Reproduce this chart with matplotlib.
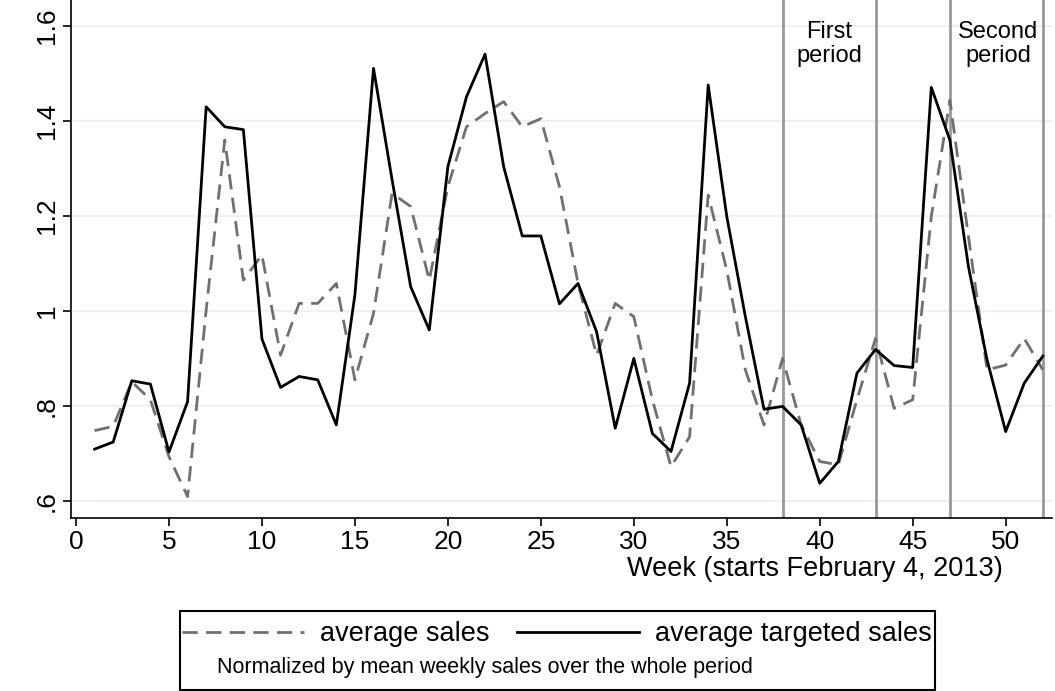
import matplotlib
matplotlib.use("Agg")
import matplotlib.pyplot as plt
from matplotlib.lines import Line2D
from matplotlib.patches import Rectangle

plt.rcParams['font.family'] = ['Liberation Sans', 'DejaVu Sans']

weeks = list(range(1, 53))
avg_sales = [0.748, 0.757, 0.851, 0.813, 0.693, 0.609, 1.002, 1.360, 1.065, 1.118,
             0.907, 1.016, 1.016, 1.058, 0.855, 0.995, 1.248, 1.220, 1.065, 1.262,
             1.388, 1.416, 1.441, 1.388, 1.405, 1.262, 1.058, 0.907, 1.016, 0.988,
             0.813, 0.672, 0.735, 1.244, 1.086, 0.876, 0.760, 0.900, 0.760, 0.683,
             0.676, 0.813, 0.942, 0.795, 0.813, 1.199, 1.444, 1.156, 0.876, 0.886,
             0.942, 0.876]
avg_targeted = [0.709, 0.724, 0.853, 0.846, 0.703, 0.809, 1.430, 1.388, 1.382, 0.941,
                0.839, 0.862, 0.855, 0.760, 1.034, 1.511, 1.276, 1.051, 0.960, 1.304,
                1.451, 1.541, 1.304, 1.158, 1.158, 1.015, 1.058, 0.956, 0.753, 0.900,
                0.742, 0.704, 0.848, 1.476, 1.199, 0.988, 0.793, 0.799, 0.760, 0.637,
                0.683, 0.869, 0.919, 0.885, 0.881, 1.471, 1.360, 1.093, 0.897, 0.746,
                0.848, 0.905]
period_lines = [38, 43, 47, 52]
yticks = [0.6, 0.8, 1.0, 1.2, 1.4, 1.6]
ytick_labels = ['.6', '.8', '1', '1.2', '1.4', '1.6']
xticks = [0, 5, 10, 15, 20, 25, 30, 35, 40, 45, 50]

fig = plt.figure(figsize=(10.55, 6.91), dpi=100)
ax = fig.add_axes([0.0673, 0.2504, 0.93, 0.7496])
ax.set_xlim(-0.27, 52.5)
ax.set_ylim(0.564, 1.655)
for y in yticks:
    ax.axhline(y, color='#eaf2f3', lw=1.5, zorder=0)
for x in period_lines:
    ax.axvline(x, color='#999999', lw=2, zorder=1)
ax.plot(weeks, avg_sales, color='#707070', lw=2, ls=(0, (5.5, 3)), zorder=2)
ax.plot(weeks, avg_targeted, color='black', lw=2, zorder=3)
ax.text(40.5, 1.61, 'First\nperiod', ha='center', va='top', fontsize=17, linespacing=1.1)
ax.text(49.6, 1.61, 'Second\nperiod', ha='center', va='top', fontsize=17, linespacing=1.1)

ax.set_yticks(yticks)
ax.set_yticklabels(ytick_labels, rotation=90, va='center', fontsize=19)
ax.set_xticks(xticks)
ax.set_xticklabels([str(t) for t in xticks], fontsize=19)
ax.tick_params(length=6, width=1.2, pad=3)
for s in ['top', 'right']:
    ax.spines[s].set_visible(False)
for s in ['left', 'bottom']:
    ax.spines[s].set_linewidth(1.2)
ax.set_xlabel('Week (starts February 4, 2013)', fontsize=19.5, loc='right', labelpad=1)
ax.xaxis.label.set_position((1003 / 1055 - 0.0673, 0))
ax.xaxis.label.set_x((1003 - 71) / (1052 - 71))

# legend box
fig.patches.append(Rectangle((180/1055, 1-690/691), (935-180)/1055, (690-611)/691,
                             transform=fig.transFigure, fill=False, edgecolor='black', lw=1.5))
handles = [Line2D([], [], color='#707070', lw=2, ls=(0, (5.5, 3))),
           Line2D([], [], color='black', lw=2)]
fig.legend(handles, ['average sales', 'average targeted sales'], ncol=2, frameon=False,
           loc='center', bbox_to_anchor=(557/1055, 1-634/691), fontsize=19.5,
           handlelength=4.5, columnspacing=1.0, handletextpad=0.6)
fig.text(217/1055, 1-667/691, 'Normalized by mean weekly sales over the whole period',
         fontsize=15.5, va='center', ha='left')

fig.savefig('out.png', dpi=100)
